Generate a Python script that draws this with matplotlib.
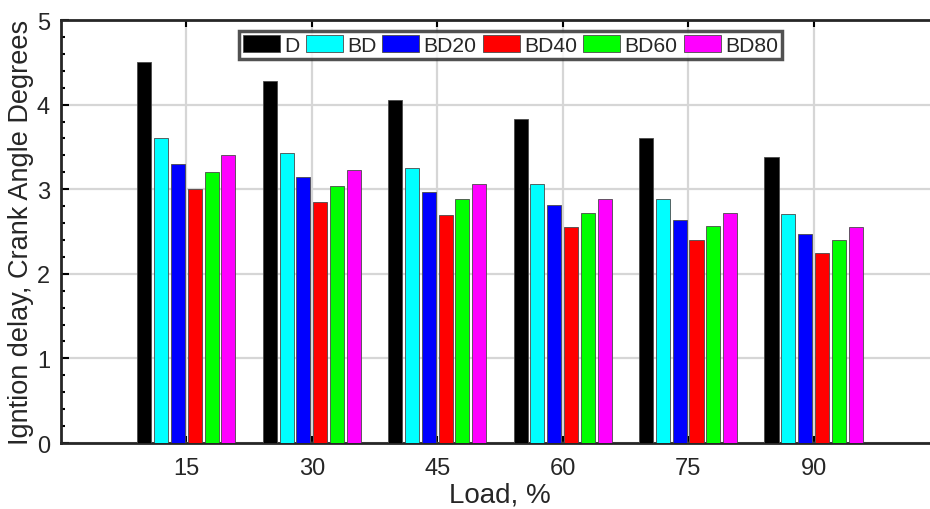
import numpy as np
import matplotlib.pyplot as plt
from matplotlib.ticker import MultipleLocator

plt.rcParams['font.family'] = ['Liberation Sans', 'DejaVu Sans']

loads = ["15", "30", "45", "60", "75", "90"]
fuels = ["D", "BD", "BD20", "BD40", "BD60", "BD80"]
colors = ["#000000", "#00ffff", "#0000ff", "#ff0000", "#00ff00", "#ff00ff"]

d    = [4.50, 4.28, 4.05, 3.83, 3.60, 3.38]
bd   = [3.60, 3.43, 3.25, 3.06, 2.89, 2.71]
bd20 = [3.30, 3.14, 2.97, 2.81, 2.64, 2.47]
bd40 = [3.00, 2.85, 2.70, 2.55, 2.40, 2.25]
bd60 = [3.20, 3.04, 2.88, 2.72, 2.56, 2.40]
bd80 = [3.40, 3.23, 3.06, 2.89, 2.72, 2.55]
series = [d, bd, bd20, bd40, bd60, bd80]

fig = plt.figure(figsize=(9.3, 5.1), dpi=100)
ax = fig.add_axes([0.0656, 0.1294, 0.944, 0.8294])

x = np.arange(1, len(loads) + 1)
pitch = 0.134
for i, (vals, name, c) in enumerate(zip(series, fuels, colors)):
    ax.bar(x + (i - 2.5) * pitch, vals, width=0.112, color=c,
           edgecolor="#4a4a4a", linewidth=0.6, label=name, zorder=3)

ax.set_xlim(0, 7)
ax.set_ylim(0, 5)
ax.set_xticks(x)
ax.set_xticklabels(loads)
ax.yaxis.set_minor_locator(MultipleLocator(0.2))

txt = "#262626"
ax.tick_params(axis="both", which="both", direction="in", top=True,
               labelsize=17, labelcolor=txt, width=1.5)
ax.tick_params(axis="both", which="major", length=6)
ax.tick_params(axis="y", which="major", pad=8)
ax.tick_params(axis="y", which="minor", length=3)
ax.tick_params(axis="x", which="major", length=5, pad=10)

for s in ["left", "bottom", "top"]:
    ax.spines[s].set_linewidth(2)
    ax.spines[s].set_color("#262626")
ax.spines["right"].set_visible(False)

ax.grid(True, color="#d6d6d6", linewidth=1.6, zorder=0)
ax.set_axisbelow(True)

ax.set_xlabel("Load, %", fontsize=20, color=txt, labelpad=2)
ax.set_ylabel("Igntion delay, Crank Angle Degrees", fontsize=19.5, color=txt, labelpad=2)

leg = ax.legend(ncol=6, loc="upper center", bbox_to_anchor=(0.512, 0.985),
                fontsize=15.2, frameon=True, fancybox=False,
                handlelength=1.75, handleheight=0.9, handletextpad=0.2,
                columnspacing=0.3, borderpad=0.2, borderaxespad=0.2)
leg.get_frame().set_edgecolor("#262626")
leg.get_frame().set_linewidth(2.5)
for t in leg.get_texts():
    t.set_color(txt)

fig.savefig("out.png", dpi=100)
